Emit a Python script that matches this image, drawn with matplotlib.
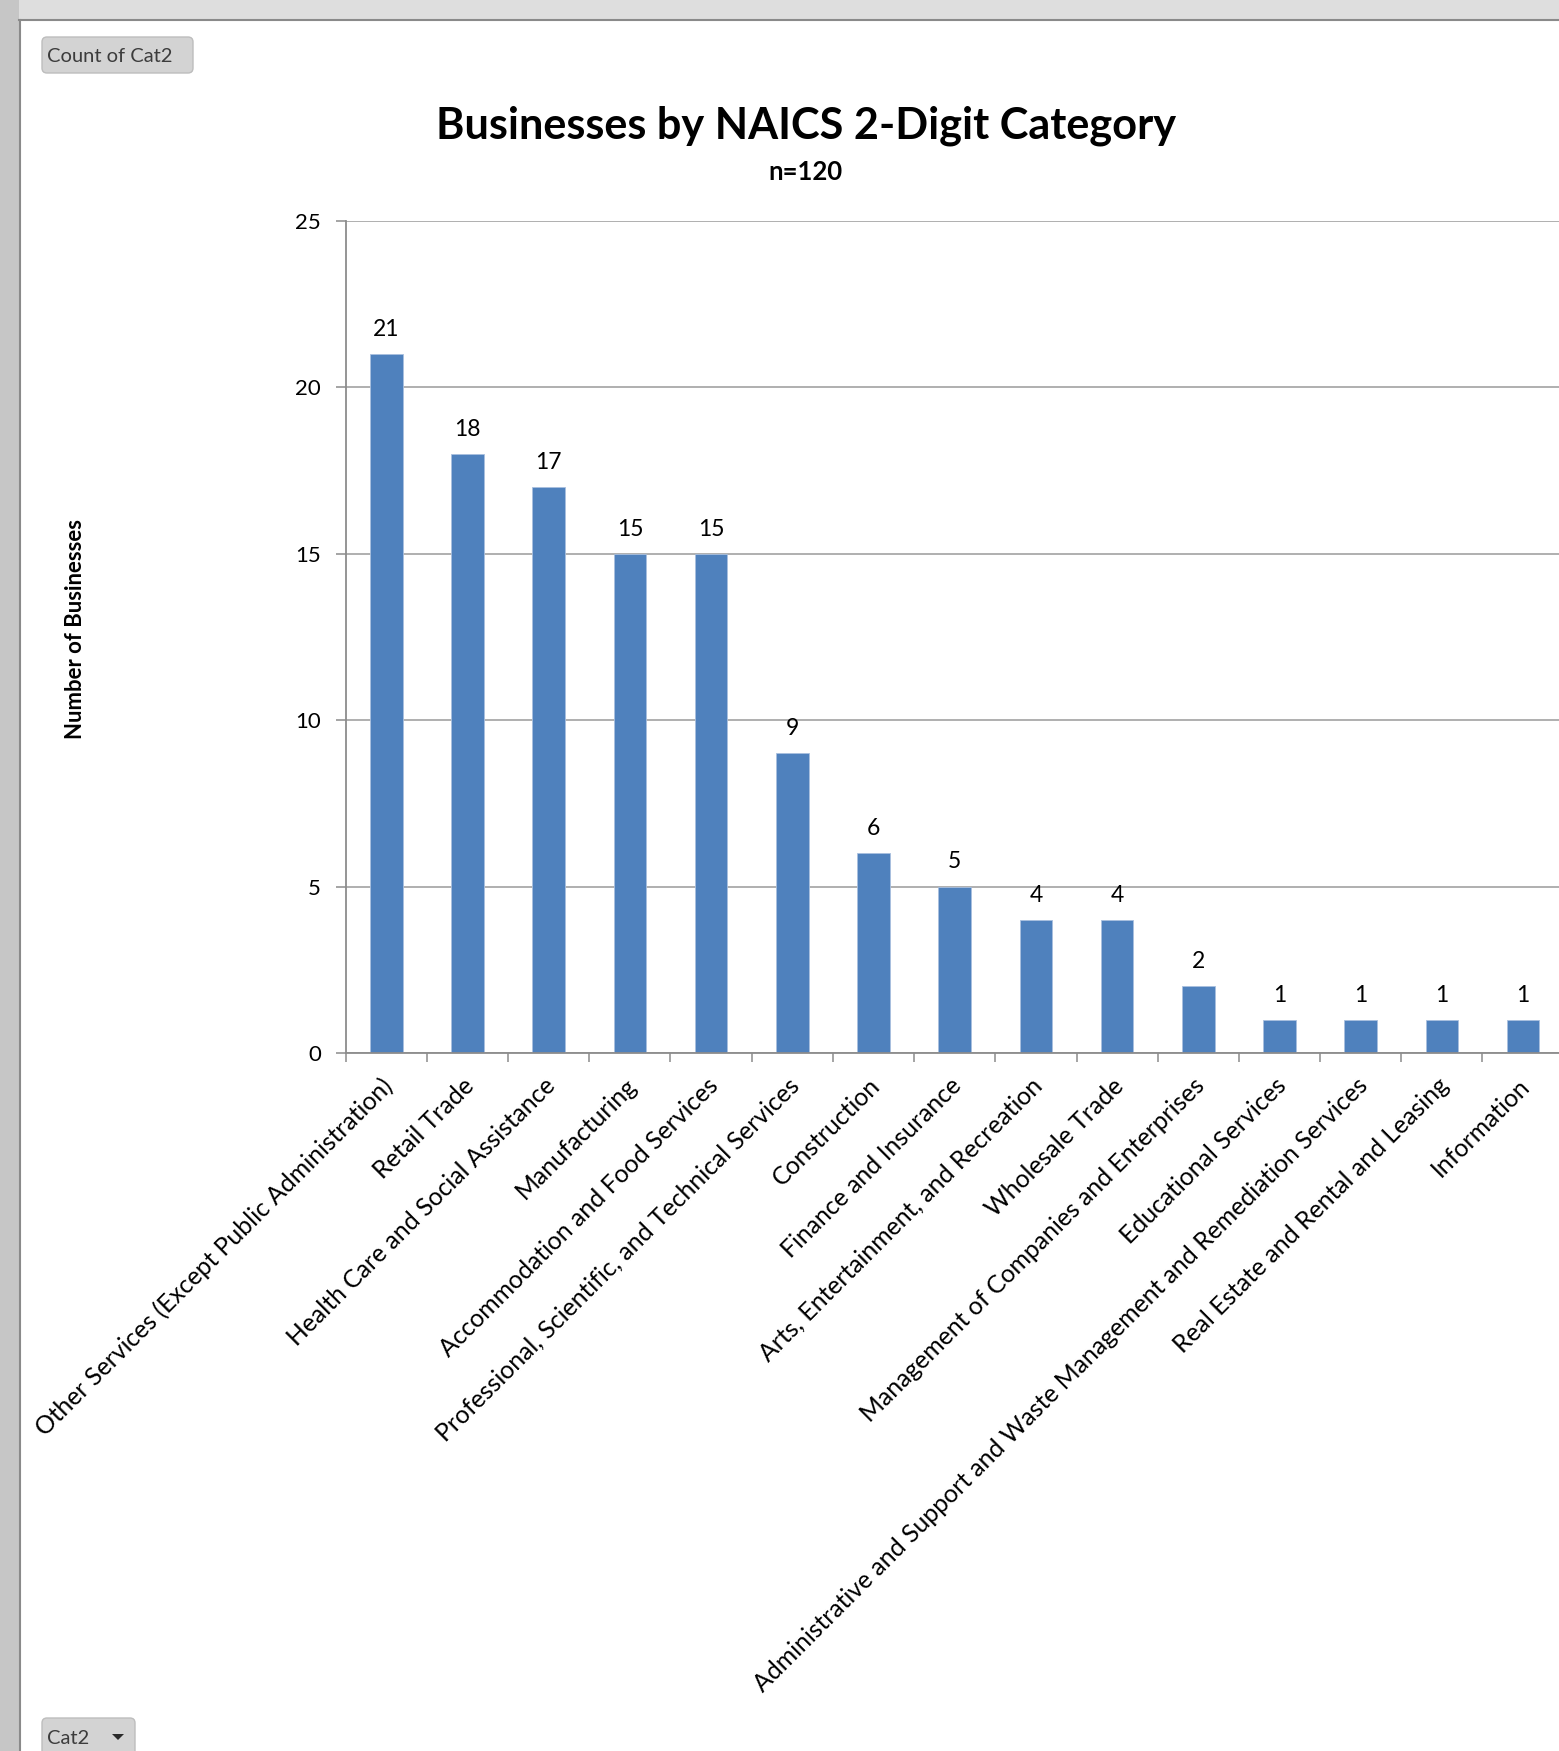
import matplotlib
matplotlib.use("Agg")
import matplotlib.pyplot as plt
import matplotlib.transforms as mtransforms
from matplotlib.patches import Rectangle, FancyBboxPatch, Polygon
from matplotlib.lines import Line2D

# ---------------- data ----------------
categories = [
    "Other Services (Except Public Administration)",
    "Retail Trade",
    "Health Care and Social Assistance",
    "Manufacturing",
    "Accommodation and Food Services",
    "Professional, Scientific, and Technical Services",
    "Construction",
    "Finance and Insurance",
    "Arts, Entertainment, and Recreation",
    "Wholesale Trade",
    "Management of Companies and Enterprises",
    "Educational Services",
    "Administrative and Support and Waste Management and Remediation Services",
    "Real Estate and Rental and Leasing",
    "Information",
]
counts = [21, 18, 17, 15, 15, 9, 6, 5, 4, 4, 2, 1, 1, 1, 1]
y_ticks = [0, 5, 10, 15, 20, 25]
title = "Businesses by NAICS 2-Digit Category"
subtitle = "n=120"
y_label = "Number of Businesses"

# ---------------- figure ----------------
W, H = 1559, 1751
DPI = 100
fig = plt.figure(figsize=(W / DPI, H / DPI), dpi=DPI)
fig.patch.set_facecolor("white")
renderer = fig.canvas.get_renderer()
FONT = "Lato"


def fx(px):
    return px / W


def fy(py):
    return 1 - py / H


def fit_size(s, target_px, weight="normal", base=20):
    t = fig.text(0, 0, s, fontsize=base, family=FONT, weight=weight)
    w = t.get_window_extent(renderer).width
    t.remove()
    return base * target_px / w


pix = mtransforms.IdentityTransform()

# window chrome: top band, left strip, frame lines
fig.patches.append(Rectangle((0, H - 20), W, 20, transform=pix,
                             facecolor="#dedede", edgecolor="none", zorder=0))
fig.patches.append(Rectangle((0, 0), 19, H, transform=pix,
                             facecolor="#c6c6c6", edgecolor="none", zorder=0))
fig.lines.append(Line2D([19, W], [H - 20, H - 20], transform=pix,
                        color="#8a8a8a", lw=1.5))
fig.lines.append(Line2D([19.5, 19.5], [0, H - 20], transform=pix,
                        color="#8a8a8a", lw=1.5))

# ---------------- axes ----------------
ax_left, ax_top, ax_bottom = 345.7, 220.7, 1053.0
ax_width = 15 * 81.2
ax = fig.add_axes([fx(ax_left), fy(ax_bottom), ax_width / W,
                   (ax_bottom - ax_top) / H])
ax.set_facecolor("none")
x = list(range(len(categories)))
ax.bar(x, counts, width=0.4, color="#4F81BD", edgecolor="#a9c0df",
       linewidth=0.6, zorder=3)
ax.set_xlim(-0.5, len(categories) - 0.5)
ax.set_ylim(y_ticks[0], y_ticks[-1])

for side in ("top", "right"):
    ax.spines[side].set_visible(False)
for side in ("left", "bottom"):
    ax.spines[side].set_color("#8c8c8c")
    ax.spines[side].set_linewidth(1.3)
    ax.spines[side].set_zorder(4)

ax.set_yticks(y_ticks)
ax.set_yticklabels([str(v) for v in y_ticks], family=FONT)
ax.tick_params(axis="y", length=7.2, width=1.1, color="#8c8c8c",
               pad=10.5, labelsize=16, labelcolor="black")
ax.yaxis.grid(True, color="#9a9a9a", linewidth=1.1, zorder=0)
ax.set_axisbelow(True)

ax.set_xticks([i - 0.5 for i in range(len(categories) + 1)])
ax.set_xticklabels([])
ax.tick_params(axis="x", length=6.5, width=1.1, color="#8c8c8c")

# x category labels (rotated 45)
xl_size = fit_size(categories[0], 495)
off = mtransforms.ScaledTranslation(3 / DPI, -29 / DPI, fig.dpi_scale_trans)
for i, c in enumerate(categories):
    ax.text(i, 0, c, transform=ax.get_xaxis_transform() + off,
            rotation=45, rotation_mode="anchor", ha="right", va="center",
            fontsize=xl_size, family=FONT, color="black", clip_on=False)

# data labels
for i, v in zip(x, counts):
    ax.annotate(str(v), (i, v), xytext=(0, 13), textcoords="offset points",
                ha="center", va="baseline", fontsize=16.5, family=FONT,
                color="black")

# ---------------- titles ----------------
fig.text(fx(806.5), fy(138.5), title, ha="center", va="baseline",
         fontsize=fit_size(title, 741, "bold"), weight="bold", family=FONT)
fig.text(fx(805), fy(180.5), subtitle, ha="center", va="baseline",
         fontsize=fit_size(subtitle, 74, "bold"), weight="bold", family=FONT)
fig.text(fx(76), fy(629), y_label, ha="center", va="center", rotation=90,
         fontsize=fit_size(y_label, 220, "bold"), weight="bold", family=FONT)

# ---------------- pivot buttons ----------------
btn_size = fit_size("Count of Cat2", 126)
fig.patches.append(FancyBboxPatch((42, H - 73), 151, 36, transform=pix,
                                  boxstyle="round,pad=0,rounding_size=5",
                                  facecolor="#d3d3d3", edgecolor="#bdbdbd",
                                  lw=1.0, zorder=2))
fig.text(fx(47), fy(57), "Count of Cat2", ha="left", va="center",
         fontsize=btn_size, family=FONT, color="#3c3c3c", zorder=3)

fig.patches.append(FancyBboxPatch((42, -10), 93, H - 1718 + 10,
                                  transform=pix,
                                  boxstyle="round,pad=0,rounding_size=5",
                                  facecolor="#d3d3d3", edgecolor="#bdbdbd",
                                  lw=1.0, zorder=2))
fig.text(fx(47), fy(1738), "Cat2", ha="left", va="center",
         fontsize=btn_size, family=FONT, color="#3c3c3c", zorder=3)
fig.patches.append(Polygon([(112, H - 1734), (124, H - 1734), (118, H - 1740)],
                           closed=True, transform=pix, facecolor="#2a2a2a",
                           edgecolor="none", zorder=3))

fig.savefig("out.png", dpi=DPI, facecolor=fig.get_facecolor())
